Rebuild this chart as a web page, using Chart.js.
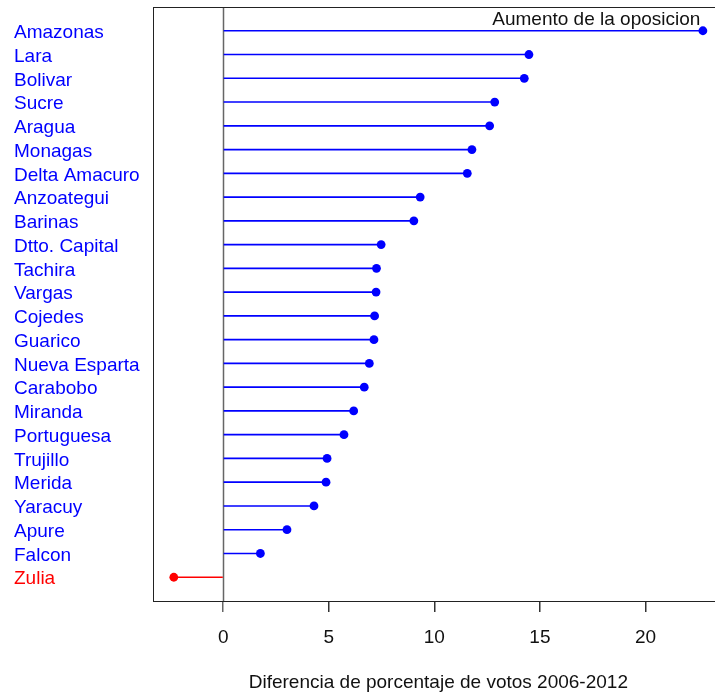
<!DOCTYPE html>
<html>
<head>
<meta charset="utf-8">
<script src="https://cdn.jsdelivr.net/npm/chart.js@4/dist/chart.umd.min.js"></script>
<style>
  html, body { margin: 0; padding: 0; background: #fff; overflow: hidden; }
  #wrap { width: 730px; height: 694px; }
</style>
</head>
<body>
<div id="wrap"><canvas id="chart-lollipop"></canvas></div>
<script>
// States, top to bottom, and their change in vote share 2006-2012
const states = [
  'Amazonas', 'Lara', 'Bolivar', 'Sucre', 'Aragua', 'Monagas', 'Delta Amacuro',
  'Anzoategui', 'Barinas', 'Dtto. Capital', 'Tachira', 'Vargas', 'Cojedes',
  'Guarico', 'Nueva Esparta', 'Carabobo', 'Miranda', 'Portuguesa', 'Trujillo',
  'Merida', 'Yaracuy', 'Apure', 'Falcon', 'Zulia'
];
const diffs = [
  22.72, 14.48, 14.26, 12.86, 12.62, 11.78, 11.56,
  9.33, 9.03, 7.48, 7.26, 7.24, 7.17,
  7.14, 6.92, 6.68, 6.18, 5.72, 4.92,
  4.87, 4.30, 3.02, 1.76, -2.34
];
const xTicks = [0, 5, 10, 15, 20];
const xTitle = 'Diferencia de porcentaje de votos 2006-2012';
const note = 'Aumento de la oposicion';

const FONT = '"Liberation Sans", Arial, sans-serif';
const colorFor = (v) => v < 0 ? '#ff0000' : '#0000ff';
const points = diffs.map((v, i) => ({ x: v, y: i + 1 }));

// frame, zero line and the corner note
const frame = {
  id: 'frame',
  beforeDatasetsDraw(chart) {
    const { ctx, chartArea: a, scales } = chart;
    const x0 = Math.round(scales.x.getPixelForValue(0)) + 0.5;
    ctx.save();
    ctx.strokeStyle = '#666';
    ctx.lineWidth = 1.5;
    ctx.beginPath();
    ctx.moveTo(x0, a.top);
    ctx.lineTo(x0, a.bottom);
    ctx.stroke();
    ctx.restore();
  },
  afterDraw(chart) {
    const { ctx, chartArea: a, scales } = chart;
    ctx.save();
    ctx.strokeStyle = '#222';
    ctx.lineWidth = 1;
    ctx.strokeRect(Math.round(a.left) + 0.5, Math.round(a.top) + 0.5,
      a.right - a.left + 20, Math.round(a.bottom - a.top));
    ctx.fillStyle = '#111';
    ctx.font = '19px ' + FONT;
    ctx.textAlign = 'right';
    ctx.textBaseline = 'middle';
    ctx.fillText(note, scales.x.getPixelForValue(22.6), scales.y.getPixelForValue(0.5) + 1);
    ctx.restore();
  }
};

new Chart(document.getElementById('chart-lollipop'), {
  type: 'bar',
  data: {
    datasets: [
      {
        type: 'scatter',
        data: points,
        pointRadius: 4.4,
        pointHoverRadius: 4.4,
        pointBackgroundColor: diffs.map(colorFor),
        pointBorderWidth: 0,
        order: 1
      },
      {
        type: 'bar',
        indexAxis: 'y',
        data: points,
        backgroundColor: diffs.map(colorFor),
        barThickness: 1,
        order: 2
      }
    ]
  },
  options: {
    indexAxis: 'y',
    responsive: true,
    maintainAspectRatio: false,
    animation: false,
    layout: { padding: { left: 14, right: 6, top: 7, bottom: 0 } },
    plugins: { legend: { display: false }, tooltip: { enabled: false } },
    scales: {
      x: {
        type: 'linear',
        min: -3.34,
        max: 23.72,
        offset: false,
        afterBuildTicks: (s) => { s.ticks = xTicks.map(v => ({ value: v })); },
        afterFit: (s) => { s.height = 93; s.paddingLeft = 0; s.paddingRight = 0; },
        border: { display: false },
        grid: {
          drawOnChartArea: false,
          tickLength: 11,
          lineWidth: 1.5,
          color: (c) => c.tick && c.tick.value === 0 ? '#666' : '#333'
        },
        ticks: {
          color: '#111',
          padding: 14,
          font: { family: FONT, size: 19 },
          maxRotation: 0
        },
        title: {
          display: true,
          text: xTitle,
          color: '#111',
          font: { family: FONT, size: 19 },
          padding: { top: 0, bottom: 0 }
        }
      },
      y: {
        type: 'linear',
        min: 0,
        max: 25,
        reverse: true,
        offset: false,
        afterBuildTicks: (s) => { s.ticks = states.map((_, i) => ({ value: i + 1 })); },
        afterFit: (s) => { s.width = 138.7; s.paddingTop = 0; s.paddingBottom = 0; },
        border: { display: false },
        grid: { display: false },
        ticks: {
          autoSkip: false,
          crossAlign: 'far',
          padding: 0,
          labelOffset: 2,
          font: { family: FONT, size: 19 },
          color: (c) => colorFor(diffs[c.tick.value - 1]),
          callback: (v) => states[v - 1]
        }
      }
    }
  },
  plugins: [frame]
});
</script>
</body>
</html>
